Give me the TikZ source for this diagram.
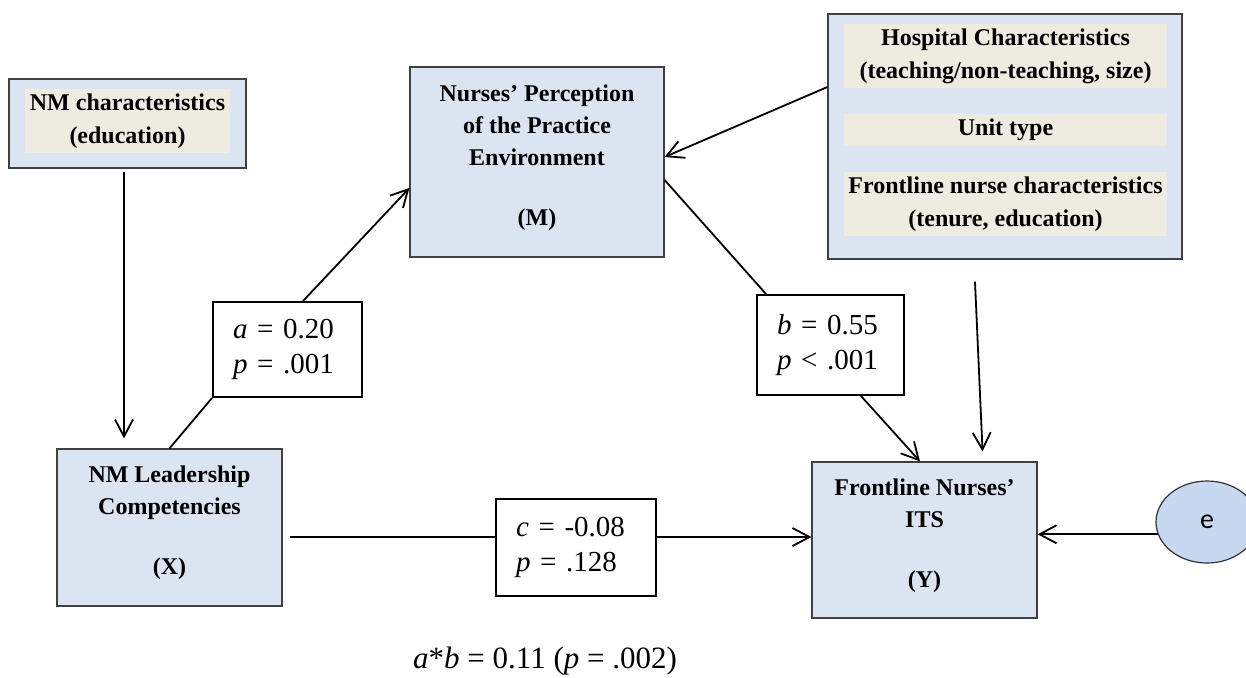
\documentclass[tikz,border=0pt]{standalone}
\usepackage{fontspec}
\setmainfont{Liberation Serif}
\newfontfamily\calibri{Carlito}
\usetikzlibrary{arrows.meta,shapes.geometric}

\definecolor{boxblue}{HTML}{DBE5F1}
\definecolor{boxtan}{HTML}{EEECE1}
\definecolor{errblue}{HTML}{C6D9F1}

\newcommand{\lowpad}{\rule[-7pt]{0pt}{7pt}}

\tikzset{
  var/.style={draw=black!75,line width=0.6pt,fill=boxblue,align=center,inner sep=0pt,font=\fontsize{12}{16}\selectfont\bfseries},
  ctrl/.style={fill=boxtan,align=center,inner sep=0pt,font=\fontsize{12}{16.5}\selectfont\bfseries},
  coef/.style={draw,line width=1pt,fill=white,align=left,inner ysep=0pt,inner xsep=10pt,font=\fontsize{14.5}{17.5}\selectfont},
  plain/.style={line width=0.9pt},
  link/.style={line width=0.9pt,-{Straight Barb[length=8.5pt,width=9pt]}}
}

\begin{document}
\begin{tikzpicture}[x=0.5pt,y=-0.5pt]
        % \draw[help lines,step=50] (0,0) grid (1246,677);
        \useasboundingbox (0,0) rectangle (1246,677);

        \node[var,minimum width=118.5pt,minimum height=44.5pt] (nmchar) at (127.5,123.5) {};
        \node[ctrl,minimum width=102.5pt,minimum height=32pt] (nmchartext) at (127.5,121) {NM characteristics\\(education)};

        \node[var,minimum width=127pt,minimum height=95pt] (percep) at (537,162) {Nurses' Perception\\of the Practice\\Environment\\[14pt](M)\lowpad};

        \node[var,minimum width=177pt,minimum height=122.5pt] (hosp) at (1005,136.5) {};
        \node[ctrl,minimum width=161.5pt,minimum height=32pt] (hospchar) at (1005.5,56) {Hospital Characteristics\\(teaching/non-teaching, size)};
        \node[ctrl,minimum width=161.5pt,minimum height=16pt] (unit) at (1005.5,130) {Unit type};
        \node[ctrl,minimum width=161.5pt,minimum height=32pt] (nursechar) at (1005.5,204) {Frontline nurse characteristics\\(tenure, education)};

        \node[var,minimum width=112.5pt,minimum height=78.5pt] (lead) at (169.5,527.5) {NM Leadership\\Competencies\\[14pt](X)\lowpad};
        \node[var,minimum width=112.5pt,minimum height=78pt] (its) at (924.5,540) {Frontline Nurses'\\ITS\\[14pt](Y)\lowpad};

        \node[coef,text width=54.5pt,minimum height=47.5pt] (apath) at (287.5,349.5) {\textit{a} = 0.20\\\textit{p} = .001};
        \node[coef,text width=53.5pt,minimum height=50pt] (bpath) at (830.5,345) {\textit{b} = 0.55\\\textit{p} {\textless} .001};
        \node[coef,text width=60pt,minimum height=48.5pt] (cpath) at (576,547.5) {\textit{c} = -0.08\\\textit{p} = .128};

        \node[ellipse,draw=black!80,line width=0.6pt,fill=errblue,minimum width=51pt,minimum height=41pt,inner sep=0pt,font=\calibri\fontsize{14}{16}\selectfont] (err) at (1207,522) {e};

        \node[anchor=base east,font=\fontsize{15.5}{18}\selectfont] (indirect) at (684,668) {\textit{a}*\textit{b} = 0.11 (\textit{p} = .002)};

        % paths
        \draw[link,shorten <=1.5pt,shorten >=5pt] ([xshift=-1.75pt]nmchar.south) -- ([xshift=-1.75pt]nmchar.south |- lead.north);
        \draw[plain] (lead.north) -- (apath.south west);
        \draw[link] ([xshift=7.75pt]apath.north) -- ([yshift=-13pt]percep.west);
        \draw[plain] ([yshift=-9pt]percep.east) -- ([xshift=5pt]bpath.north west);
        \draw[link] ([xshift=-22pt]bpath.south east) -- ([xshift=-2.25pt]its.north);
        \draw[link] ([yshift=24.75pt]hosp.west) -- ([yshift=2.5pt]percep.east);
        \draw[link,shorten <=11pt,shorten >=5pt] ([xshift=-15.5pt]hosp.south) -- ([xshift=29.25pt]its.north);
        \draw[link] (err.194) -- (err.194 -| its.east);

        \coordinate (cin) at ([yshift=5.25pt]cpath.west);
        \coordinate (cout) at ([yshift=5.25pt]cpath.east);
        \draw[plain,shorten <=3.5pt] (lead.east |- cin) -- (cin);
        \draw[link] (cout) -- (its.west |- cout);
\end{tikzpicture}
\end{document}
